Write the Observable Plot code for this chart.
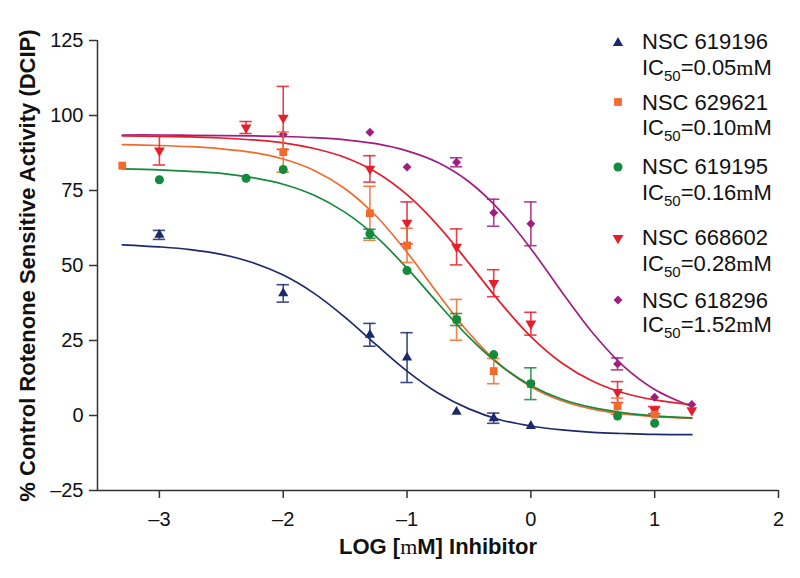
<!DOCTYPE html>
<html><head><meta charset="utf-8">
<script src="https://cdn.jsdelivr.net/npm/d3@7"></script>
<script src="https://cdn.jsdelivr.net/npm/@observablehq/plot@0.6"></script>
<style>
body{margin:0;background:#fff;}
#wrap{position:relative;width:800px;height:578px;font-family:"Liberation Sans",Arial,Helvetica,sans-serif;color:#111;}
.lt{position:absolute;left:642px;font-size:22px;line-height:22px;white-space:nowrap;}
.lt sub{font-size:15px;vertical-align:-6px;line-height:0;}
.mu{font-family:"Liberation Serif","Times New Roman",serif;}
.lm{position:absolute;left:610px;width:16px;height:16px;}
</style></head><body><div id="wrap"></div>
<script>
// ---------- data ----------
const seriesNames = ["NSC 619196", "NSC 629621", "NSC 619195", "NSC 668602", "NSC 618296"];
const ic50Values = ["0.05", "0.10", "0.16", "0.28", "1.52"];
const seriesColors = ["#1c2a6b", "#f26b2d", "#138a3c", "#e41e2b", "#a11d80"];

const xTicks = [-3, -2, -1, 0, 1, 2];
const yTicks = [-25, 0, 25, 50, 75, 100, 125];

// measured points (log mM, % activity, error half-width)
const x619196 = [-3, -2, -1.3, -1, -0.6, -0.3, 0];
const y619196 = [60.2, 40.7, 26.9, 19.3, 1.2, -0.9, -3.5];
const e619196 = [1.5, 2.9, 3.8, 8.3, 0, 1.7, 0];

const x629621 = [-3.3, -2, -1.3, -1, -0.6, -0.3, 0, 0.7, 1];
const y629621 = [83.3, 87.8, 67.4, 56.7, 31.9, 14.8, 10.5, 3.1, 0.3];
const e629621 = [0, 6.7, 9, 5.7, 6.8, 4.2, 0, 2.7, 0];

const x619195 = [-3, -2.3, -2, -1.3, -1, -0.6, -0.3, 0, 0.7, 1];
const y619195 = [78.6, 79.1, 82, 60.6, 48.3, 32, 20.3, 10.6, -0.2, -2.6];
const e619195 = [0, 0, 0, 1.5, 0, 2, 0, 5.3, 0, 0];

const x668602 = [-3, -2.3, -2, -1.3, -1, -0.6, -0.3, 0, 0.7, 1, 1.3];
const y668602 = [88.3, 96, 99.2, 82.2, 64.2, 56.2, 44.1, 30.6, 7.8, 1.8, 1.7];
const e668602 = [4.8, 2, 10.5, 4.4, 7, 6, 4.5, 3.8, 3.5, 1.2, 0];

const x618296 = [-2, -1.3, -1, -0.6, -0.3, 0, 0.7, 1, 1.3];
const y618296 = [93.7, 94.4, 82.8, 84.4, 67.6, 63.9, 17.2, 6.1, 3.7];
const e618296 = [0, 0, 0, 1.5, 4.5, 7.3, 2, 0, 0];

// fitted curves
const curveX = [-3.3, -3, -2.75, -2.5, -2.25, -2, -1.75, -1.5, -1.25, -1, -0.75, -0.5, -0.25, 0, 0.25, 0.5, 0.75, 1, 1.3];
const c619196 = [56.9, 56.2, 55.3, 53.7, 51.0, 46.8, 40.7, 32.7, 23.6, 14.8, 7.5, 2.2, -1.4, -3.5, -4.8, -5.6, -6.0, -6.3, -6.4];
const c629621 = [90.3, 90.0, 89.6, 88.9, 87.7, 85.5, 81.7, 75.6, 66.5, 54.4, 40.6, 27.5, 17.0, 9.6, 4.9, 2.1, 0.5, -0.4, -1.0];
const c619195 = [82.2, 81.9, 81.4, 80.7, 79.3, 77.1, 73.4, 67.7, 59.6, 49.1, 37.4, 26.1, 16.8, 10.0, 5.4, 2.6, 0.9, -0.1, -0.8];
const c668602 = [93.2, 93.0, 92.9, 92.5, 91.9, 90.9, 89.0, 86.0, 81.1, 73.6, 63.3, 50.8, 37.8, 26.3, 17.5, 11.4, 7.5, 5.2, 3.6];
const c618296 = [93.5, 93.5, 93.4, 93.3, 93.2, 93.0, 92.6, 91.9, 90.6, 88.2, 84.3, 77.9, 68.3, 55.6, 41.2, 27.5, 16.4, 8.7, 3.0];

// ---------- build ----------
const triangleDown = {
  draw(ctx, size) {
    const y = -Math.sqrt(size / (Math.sqrt(3) * 3));
    ctx.moveTo(0, -y * 2);
    ctx.lineTo(-Math.sqrt(3) * y, y);
    ctx.lineTo(Math.sqrt(3) * y, y);
    ctx.closePath();
  }
};
const symbols = [d3.symbolTriangle, d3.symbolSquare, d3.symbolCircle, triangleDown, d3.symbolDiamond2];
const symbolR = [3.8, 4.4, 4.5, 4.0, 4.0];

const pointSets = [
  [x619196, y619196, e619196],
  [x629621, y629621, e629621],
  [x619195, y619195, e619195],
  [x668602, y668602, e668602],
  [x618296, y618296, e618296]
];
const curveSets = [c619196, c629621, c619195, c668602, c618296];

const capHalf = 0.05;
const marks = [];
marks.push(Plot.ruleX([-3.5], {y1: -25, y2: 125, stroke: "#333", strokeWidth: 1.5}));
marks.push(Plot.ruleY([-25], {x1: -3.5, x2: 2, stroke: "#333", strokeWidth: 1.5}));

const drawOrder = [4, 3, 1, 2, 0];
for (const i of drawOrder) {
  const curve = curveX.map((x, k) => ({x, y: curveSets[i][k]}));
  marks.push(Plot.line(curve, {x: "x", y: "y", stroke: seriesColors[i], strokeWidth: 1.7, curve: "catmull-rom"}));
}
for (const i of drawOrder) {
  const [xs, ys, es] = pointSets[i];
  const pts = xs.map((x, k) => ({x, y: ys[k], e: es[k]}));
  const err = pts.filter(d => d.e > 0);
  const c = seriesColors[i];
  marks.push(Plot.ruleX(err, {x: "x", y1: d => d.y - d.e, y2: d => d.y + d.e, stroke: c, strokeWidth: 1.6, strokeOpacity: 0.85}));
  marks.push(Plot.ruleY(err, {y: d => d.y + d.e, x1: d => d.x - capHalf, x2: d => d.x + capHalf, stroke: c, strokeWidth: 1.6, strokeOpacity: 0.85}));
  marks.push(Plot.ruleY(err, {y: d => d.y - d.e, x1: d => d.x - capHalf, x2: d => d.x + capHalf, stroke: c, strokeWidth: 1.6, strokeOpacity: 0.85}));
  marks.push(Plot.dot(pts, {x: "x", y: "y", symbol: symbols[i], r: symbolR[i], fill: c, stroke: "none"}));
}
// axis titles
marks.push(Plot.text(["% Control Rotenone Sensitive Activity (DCIP)"], {frameAnchor: "left", textAnchor: "middle", rotate: -90, dx: -70, fontSize: 22, fontWeight: "bold", fill: "#111"}));
marks.push(Plot.text(["LOG [mM] Inhibitor"], {frameAnchor: "bottom", textAnchor: "middle", dy: 63, fontSize: 22, fontWeight: "bold", fill: "#111"}));

const fmt = d => d < 0 ? "\u2013" + Math.abs(d) : String(d);
marks.push(Plot.axisX(xTicks, {tickSize: 8, tickPadding: 13, tickFormat: fmt, fontSize: 20, stroke: "#333", strokeWidth: 1.5}));
marks.push(Plot.axisY(yTicks, {tickSize: 8, tickPadding: 6, tickFormat: fmt, fontSize: 20, stroke: "#333", strokeWidth: 1.5}));

const chart = Plot.plot({
  width: 800, height: 578,
  marginLeft: 97, marginRight: 22, marginTop: 40, marginBottom: 88,
  style: {fontFamily: "'Liberation Sans', Arial, sans-serif", color: "#111", background: "#fff"},
  x: {domain: [-3.5, 2], label: null},
  y: {domain: [-25, 125], label: null},
  marks
});
const wrap = document.getElementById("wrap");
wrap.appendChild(chart);

// serif "m" in the x title
for (const t of chart.querySelectorAll("text")) {
  if (t.textContent === "LOG [mM] Inhibitor") {
    t.textContent = "";
    const parts = [["LOG [", null], ["m", "serif"], ["M] Inhibitor", null]];
    for (const [s, f] of parts) {
      const ts = document.createElementNS("http://www.w3.org/2000/svg", "tspan");
      ts.textContent = s;
      if (f) { ts.setAttribute("font-family", "'Liberation Serif', 'Times New Roman', serif"); ts.setAttribute("font-weight", "normal"); }
      t.appendChild(ts);
    }
  }
}

// legend
const nameY = [42, 103, 167, 238, 301];
const icY = [70, 130, 195, 266, 327];
const markerY = [43, 102, 167, 238, 300];
seriesNames.forEach((name, i) => {
  const a = document.createElement("div");
  a.className = "lt"; a.style.top = (nameY[i] - 11) + "px"; a.textContent = name;
  wrap.appendChild(a);
  const b = document.createElement("div");
  b.className = "lt"; b.style.top = (icY[i] - 13) + "px";
  b.innerHTML = "IC<sub>50</sub>=" + ic50Values[i] + "<span class='mu'>m</span>M";
  wrap.appendChild(b);
  const svg = d3.create("svg").attr("class", "lm").attr("width", 16).attr("height", 16)
    .style("top", (markerY[i] - 8) + "px");
  svg.append("path").attr("transform", "translate(8,8)")
    .attr("d", d3.symbol(symbols[i], Math.PI * symbolR[i] * symbolR[i])())
    .attr("fill", seriesColors[i]);
  wrap.appendChild(svg.node());
});
</script>
</body></html>
